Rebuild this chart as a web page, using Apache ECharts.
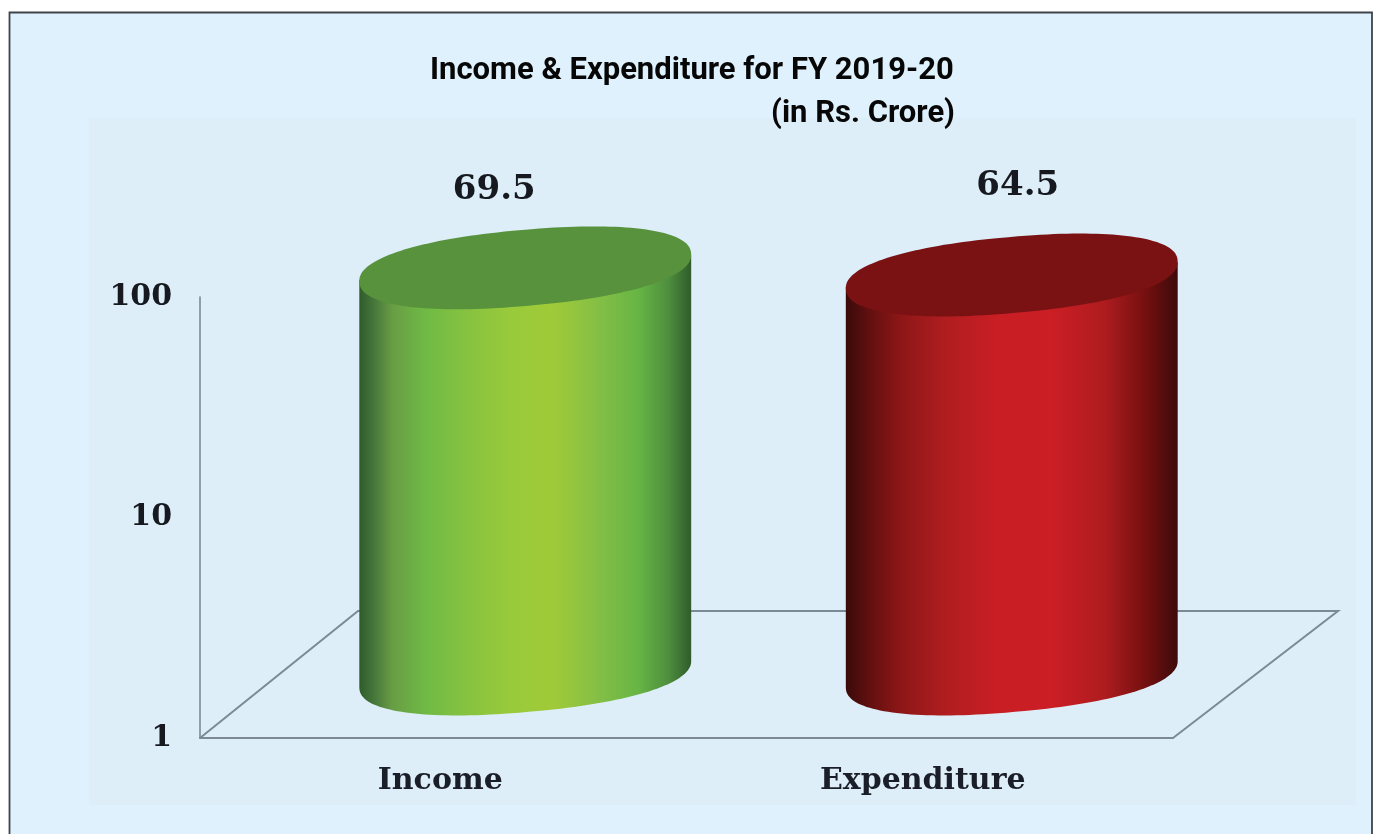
<!DOCTYPE html>
<html>
<head>
<meta charset="utf-8">
<style>html,body{margin:0;padding:0;background:#fff}#c{width:1374px;height:834px}</style>
<script src="https://cdn.jsdelivr.net/npm/echarts@6/dist/echarts.min.js"></script>
</head>
<body>
<div id="c"></div>
<script>
const categories = ['Income', 'Expenditure'];
const values = [69.5, 64.5];
const yTicks = [1, 10, 100];
const titleLine1 = 'Income & Expenditure for FY 2019-20';
const titleLine2 = '(in Rs. Crore)';

// Styling and pseudo-3D geometry
const depth = [82, -64];
const floorBack = { left: [158, -127], right: [165, -127] };
const radiusX = 166.5, radiusY = 38, tilt = 5 * Math.PI / 180, squareness = 2.25;
const labelShift = [[-31, 14], [6, 3]];
const labelLift = -92;
const serif = '"DejaVu Serif","Liberation Serif",serif';
const titleFont = '"Roboto","Liberation Sans",sans-serif';
const axisColor = '#7d8a95';
const topColors = ['#58923d', '#7a1213'];
const bodyStops = [
  [[0,'#2f5c2b'],[.04,'#44743a'],[.1,'#689d44'],[.2,'#6fba45'],[.32,'#86c240'],[.45,'#98ca3b'],[.58,'#a0ca38'],[.72,'#84bf45'],[.84,'#67b545'],[.93,'#4f8f3e'],[1,'#2f5c2b']],
  [[0,'#3a0a0a'],[.06,'#5c0f0f'],[.16,'#8c1616'],[.3,'#b01d20'],[.45,'#c81e24'],[.62,'#cb1e25'],[.78,'#ae1c1f'],[.9,'#761010'],[1,'#3d0a0a']]
];

function ellipsePoint(cx, cy, t) {
  const c = Math.cos(t), s = Math.sin(t), p = 2 / squareness;
  const u = radiusX * Math.sign(c) * Math.pow(Math.abs(c), p);
  const v = radiusY * Math.sign(s) * Math.pow(Math.abs(s), p);
  return [cx + u * Math.cos(tilt) + v * Math.sin(tilt), cy - u * Math.sin(tilt) + v * Math.cos(tilt)];
}

// Outline of the rim, plus the indices of its rightmost and leftmost points.
function rimOutline(cx, cy) {
  const n = 160, pts = [];
  let right = 0, left = 0;
  for (let k = 0; k < n; k++) {
    const p = ellipsePoint(cx, cy, 2 * Math.PI * k / n);
    pts.push(p);
    if (p[0] > pts[right][0]) right = k;
    if (p[0] < pts[left][0]) left = k;
  }
  return { pts, right, left };
}

function renderFloor(params, api) {
  const g = params.coordSys;
  const x0 = g.x, x1 = g.x + g.width, y = g.y + g.height;
  return {
    type: 'polyline',
    silent: true,
    shape: { points: [
      [x0, y],
      [x0 + floorBack.left[0], y + floorBack.left[1]],
      [x1 + floorBack.right[0], y + floorBack.right[1]],
      [x1, y]
    ] },
    style: { fill: null, stroke: axisColor, lineWidth: 2 }
  };
}

function renderCylinder(params, api) {
  const i = params.dataIndex;
  const top = api.coord([api.value(0), api.value(1)]);
  const base = api.coord([api.value(0), 1]);
  const cx = top[0] + depth[0];
  const yTop = top[1] + depth[1];
  const yBase = base[1] + depth[1];
  const capRim = rimOutline(cx, yTop);
  const baseRim = rimOutline(cx, yBase);
  const body = [];
  const m = baseRim.pts.length;
  // Walk the lower half of the base from its right extreme to its left extreme.
  for (let k = baseRim.right; ; k = (k + 1) % m) {
    body.push(baseRim.pts[k]);
    if (k === baseRim.left) break;
  }
  body.push(capRim.pts[capRim.left]);
  body.push(capRim.pts[capRim.right]);
  return {
    type: 'group',
    children: [
      { type: 'polygon', shape: { points: body }, style: {
          fill: new echarts.graphic.LinearGradient(0, 0, 1, 0,
            bodyStops[i].map(s => ({ offset: s[0], color: s[1] }))) } },
      { type: 'polygon', shape: { points: capRim.pts }, style: { fill: topColors[i] } },
      { type: 'text', style: {
          text: String(api.value(1)),
          x: cx + labelShift[i][0],
          y: yTop + labelLift + labelShift[i][1],
          align: 'center', verticalAlign: 'middle',
          font: 'bold 34px ' + serif, fill: '#16191f' } }
    ]
  };
}

const chart = echarts.init(document.getElementById('c'), null, { renderer: 'canvas' });
chart.setOption({
  animation: false,
  backgroundColor: '#fff',
  graphic: [
    { type: 'rect', z: -10, shape: { x: 9.5, y: 12.5, width: 1362.5, height: 850 },
      style: { fill: '#dff1fc', stroke: '#3f444a', lineWidth: 1.8 } },
    { type: 'rect', z: -9, shape: { x: 89, y: 118, width: 1267, height: 687 },
      style: { fill: '#ddeef9' } }
  ],
  title: [
    { text: titleLine1, left: 425, top: 51,
      textStyle: { fontFamily: titleFont, fontWeight: 'bold', fontSize: 31, color: '#070707' } },
    { text: titleLine2, right: 414, top: 94,
      textStyle: { fontFamily: titleFont, fontWeight: 'bold', fontSize: 31, color: '#070707' } }
  ],
  grid: { left: 200, top: 297, width: 973, height: 441, containLabel: false },
  xAxis: {
    type: 'category',
    data: categories,
    axisLine: { show: true, lineStyle: { color: axisColor, width: 2 } },
    axisTick: { show: false },
    axisLabel: {
      margin: 28,
      formatter: (name, i) => '{c' + i + '|' + name + '}',
      rich: {
        c0: { fontFamily: serif, fontWeight: 'bold', fontSize: 30, color: '#1a1e28', padding: [0, 6, 0, 0] },
        c1: { fontFamily: serif, fontWeight: 'bold', fontSize: 30, color: '#1a1e28', padding: [0, 14, 0, 0] }
      }
    }
  },
  yAxis: {
    type: 'log',
    logBase: 10,
    min: yTicks[0],
    max: yTicks[yTicks.length - 1],
    axisLine: { show: true, lineStyle: { color: axisColor, width: 1.6 } },
    axisTick: { show: false },
    splitLine: { show: false },
    minorSplitLine: { show: false },
    axisLabel: { margin: 28, fontFamily: serif, fontWeight: 'bold', fontSize: 30, color: '#16191f', verticalAlign: 'middle' }
  },
  series: [
    { type: 'custom', renderItem: renderFloor, coordinateSystem: 'cartesian2d', data: [[0, 1]], silent: true, z: 1 },
    { type: 'custom', renderItem: renderCylinder, coordinateSystem: 'cartesian2d', z: 2,
      encode: { x: 0, y: 1 },
      data: values.map((v, i) => [i, v]) }
  ]
});
</script>
</body>
</html>
